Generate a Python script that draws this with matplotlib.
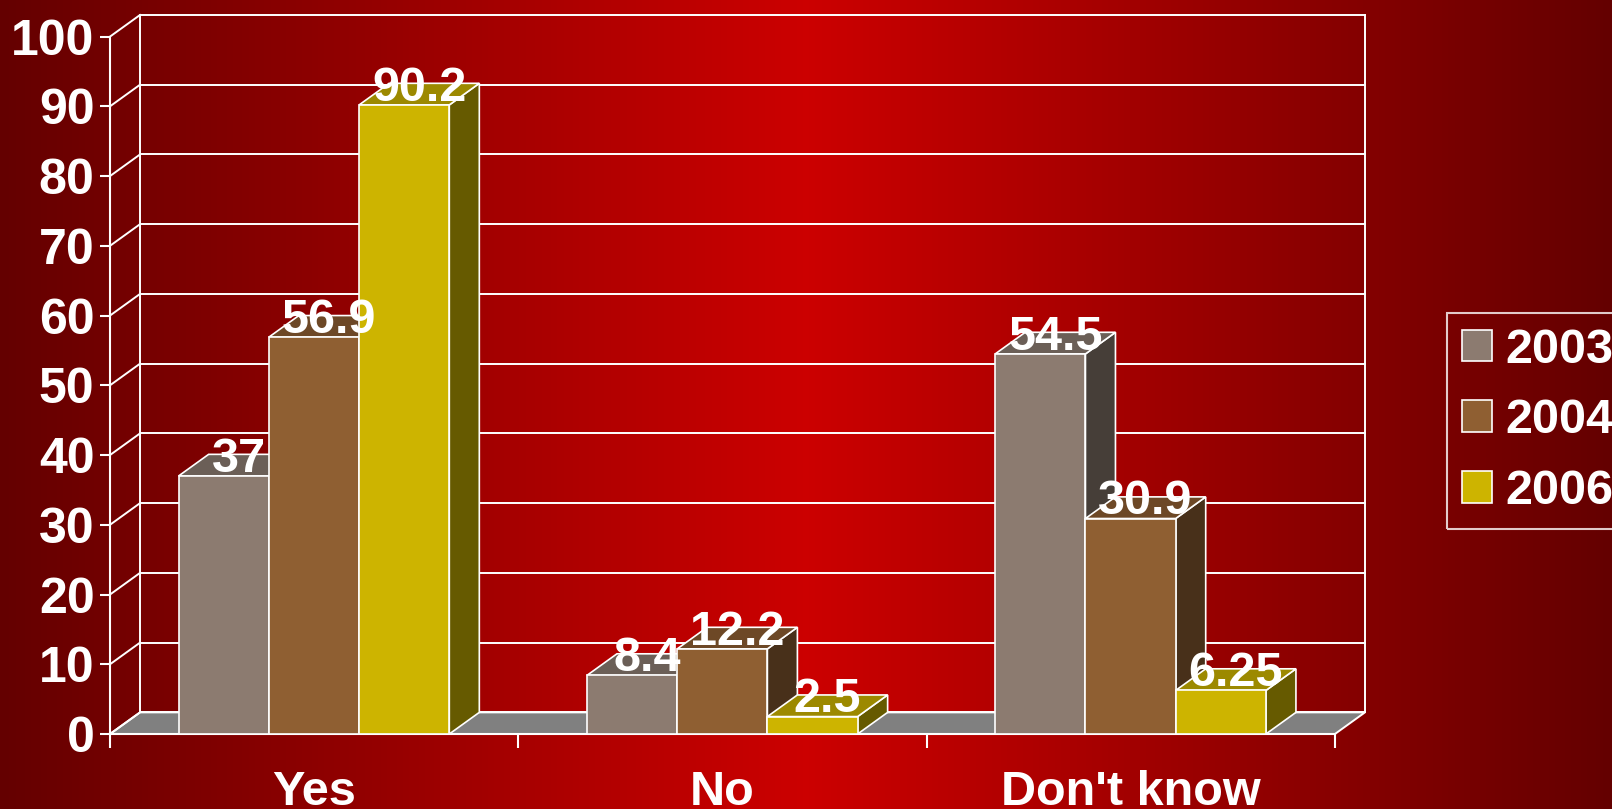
import numpy as np
import matplotlib
matplotlib.use("Agg")
import matplotlib.pyplot as plt
from matplotlib.patches import Polygon, Patch
from matplotlib.colors import LinearSegmentedColormap

categories = ["Yes", "No", "Don't know"]
years = ["2003", "2004", "2006"]
v2003 = [37, 8.4, 54.5]
v2004 = [56.9, 12.2, 30.9]
v2006 = [90.2, 2.5, 6.25]
yticks = list(range(0, 101, 10))

front_colors = ["#8C7B70", "#8F5F32", "#CDB400"]
top_colors = ["#6B5F57", "#6D4826", "#9C8900"]
side_colors = ["#463E38", "#48301A", "#665A00"]

plt.rcParams["font.family"] = ["Liberation Sans", "DejaVu Sans"]
plt.rcParams["font.weight"] = "bold"

fig = plt.figure(figsize=(16.12, 8.09), dpi=100)

# red background, dark at the sides and bright in the middle
bg = fig.add_axes([0, 0, 1, 1], zorder=-10)
grad = np.abs(np.linspace(-1, 1, 512))[None, :]
cmap = LinearSegmentedColormap.from_list("redbg", ["#CC0000", "#640000"])
bg.imshow(grad, cmap=cmap, aspect="auto", extent=[0, 1, 0, 1])
bg.axis("off")

ax = fig.add_axes([0.06824, 0.0927, 0.7785, 0.8888])
ax.patch.set_alpha(0)

dx = 0.0735  # depth offset, category units
dy = 3.1     # depth offset, value units
n = len(categories)
ax.set_xlim(0, n + dx)
ax.set_ylim(0, 100 + dy)

line_kw = dict(color="white", lw=1.4, clip_on=False, zorder=1)

# floor
ax.add_patch(Polygon([(0, 0), (n, 0), (n + dx, dy), (dx, dy)],
                     closed=True, facecolor="#808080", edgecolor="white",
                     lw=1.4, zorder=1, clip_on=False))

# back wall grid and left wall diagonals
for v in yticks:
    ax.plot([dx, n + dx], [v + dy, v + dy], **line_kw)
    ax.plot([0, dx], [v, v + dy], **line_kw)
ax.plot([dx, dx], [dy, 100 + dy], **line_kw)
ax.plot([n + dx, n + dx], [dy, 100 + dy], **line_kw)

# 3D bars
series = [v2003, v2004, v2006]
bw = 0.221
start = 0.168
z = 3
for i in range(n):
    for j, vals in enumerate(series):
        h = vals[i]
        x0 = i + start + j * bw
        x1 = x0 + bw
        ax.add_patch(Polygon([(x1, 0), (x1 + dx, dy), (x1 + dx, h + dy), (x1, h)],
                             closed=True, facecolor=side_colors[j],
                             edgecolor="white", lw=1.2, zorder=z))
        ax.add_patch(Polygon([(x0, h), (x0 + dx, h + dy), (x1 + dx, h + dy), (x1, h)],
                             closed=True, facecolor=top_colors[j],
                             edgecolor="white", lw=1.2, zorder=z))
        ax.bar(x0, h, width=bw, align="edge", color=front_colors[j],
               edgecolor="white", lw=1.2, zorder=z)
        z += 1
        ax.annotate(f"{h:g}", (x0 + bw / 2 + dx / 2, h + dy),
                    xytext=(0, -3.5), textcoords="offset points",
                    ha="center", va="center", color="white",
                    fontsize=35, fontweight="bold", zorder=50)

# axes
for s in ["top", "right"]:
    ax.spines[s].set_visible(False)
ax.spines["left"].set_bounds(0, 100)
ax.spines["bottom"].set_bounds(0, n)
for s in ["left", "bottom"]:
    ax.spines[s].set_color("white")
    ax.spines[s].set_linewidth(1.5)
    ax.spines[s].set_zorder(2)

ax.set_yticks(yticks)
ax.set_yticklabels([str(t) for t in yticks])
ax.tick_params(axis="y", colors="white", length=7.2, width=1.5, pad=4,
               labelsize=36)
ax.set_xticks(range(n + 1))
ax.set_xticklabels([""] * (n + 1))
ax.tick_params(axis="x", which="major", colors="white", length=10, width=1.5)
ax.set_xticks([i + 0.5 for i in range(n)], minor=True)
ax.set_xticklabels(categories, minor=True)
ax.tick_params(axis="x", which="minor", length=0, pad=26, labelsize=35,
               labelcolor="white")
for lab in ax.get_xticklabels(minor=True) + ax.get_yticklabels():
    lab.set_fontweight("bold")

handles = [Patch(facecolor=c, edgecolor="white", lw=1.2) for c in front_colors]
leg = fig.legend(handles, years, loc="upper left",
                 bbox_to_anchor=(1447 / 1612, 1 - 313 / 809),
                 borderaxespad=0, frameon=True, fancybox=False,
                 handlelength=0.62, handleheight=0.62,
                 handletextpad=0.28, borderpad=0.3, labelspacing=0.53,
                 prop={"weight": "bold", "size": 35})
leg.get_frame().set_facecolor("none")
leg.get_frame().set_edgecolor("white")
leg.get_frame().set_linewidth(1.5)
for t in leg.get_texts():
    t.set_color("white")

fig.savefig("out.png", dpi=100)
